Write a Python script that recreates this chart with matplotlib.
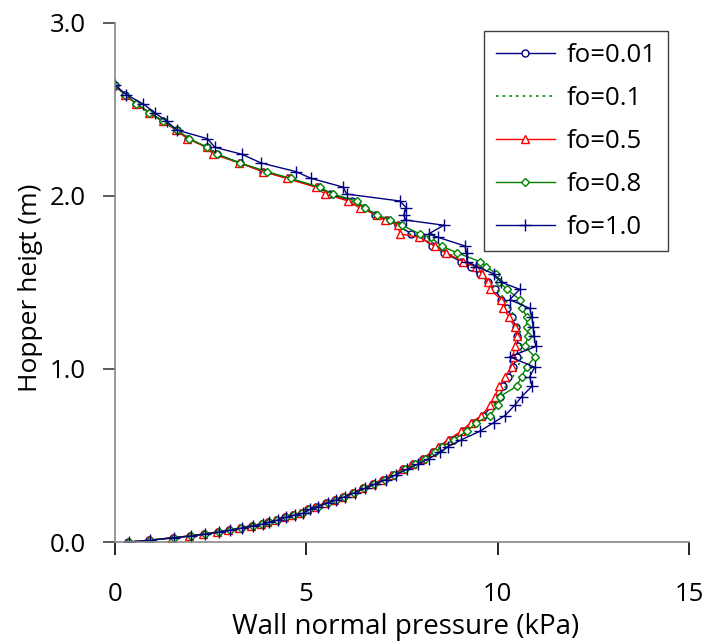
import matplotlib
matplotlib.use('Agg')
import matplotlib.pyplot as plt

# hopper height of the wall nodes (m), top to bottom
height = [2.64, 2.585, 2.53, 2.48, 2.43, 2.38, 2.33, 2.28, 2.24, 2.19,
          2.14, 2.10, 2.05, 2.01, 1.97, 1.93, 1.89, 1.86, 1.83, 1.78,
          1.76, 1.71, 1.67, 1.62, 1.59, 1.55, 1.50, 1.46, 1.40, 1.35,
          1.30, 1.24, 1.19, 1.13, 1.07, 1.01, 0.955, 0.90, 0.84, 0.79,
          0.73, 0.69, 0.64, 0.59, 0.55, 0.52, 0.48, 0.45, 0.42, 0.39,
          0.36, 0.335, 0.31, 0.285, 0.262, 0.243, 0.227, 0.204, 0.189, 0.166,
          0.156, 0.143, 0.127, 0.116, 0.104, 0.094, 0.081, 0.068, 0.058, 0.046,
          0.035, 0.025, 0.01, 0.0]

# wall normal pressure (kPa) for each fo
p_001 = [0.0, 0.27, 0.57, 0.92, 1.27, 1.63, 1.92, 2.42, 2.68, 3.27,
         3.88, 4.55, 5.3, 5.62, 6.2, 6.5, 6.8, 7.1, 7.4, 7.75,
         8.0, 8.3, 8.6, 9.05, 9.3, 9.55, 9.75, 9.93, 10.1, 10.25,
         10.37, 10.48, 10.51, 10.54, 10.5, 10.41, 10.28, 10.15, 10.06, 9.88,
         9.62, 9.36, 9.10, 8.75, 8.49, 8.32, 8.06, 7.80, 7.54, 7.27,
         7.01, 6.75, 6.49, 6.23, 5.97, 5.75, 5.53, 5.27, 5.06, 4.88,
         4.66, 4.45, 4.23, 4.01, 3.84, 3.58, 3.29, 2.99, 2.70, 2.34,
         1.97, 1.53, 0.9, 0.36]
p_01 = [0.0, 0.27, 0.57, 0.91, 1.26, 1.62, 1.92, 2.41, 2.64, 3.26,
        3.90, 4.55, 5.28, 5.60, 6.18, 6.48, 6.82, 7.10, 7.42, 7.70,
        8.05, 8.35, 8.70, 9.10, 9.35, 9.62, 9.80, 9.98, 10.20, 10.32,
        10.45, 10.55, 10.62, 10.60, 10.65, 10.52, 10.40, 10.22, 10.02, 9.90,
        9.66, 9.38, 9.12, 8.78, 8.51, 8.34, 8.08, 7.82, 7.56, 7.29,
        7.03, 6.77, 6.51, 6.25, 5.99, 5.77, 5.55, 5.29, 5.08, 4.90,
        4.68, 4.46, 4.24, 4.02, 3.85, 3.59, 3.30, 3.00, 2.71, 2.35,
        1.98, 1.54, 0.91, 0.37]
p_05 = [0.0, 0.27, 0.57, 0.90, 1.25, 1.60, 1.90, 2.40, 2.58, 3.25,
        3.88, 4.50, 5.25, 5.49, 6.10, 6.40, 6.84, 7.05, 7.40, 7.45,
        7.95, 8.36, 8.65, 9.10, 9.43, 9.60, 9.75, 9.80, 10.10, 10.15,
        10.30, 10.45, 10.50, 10.45, 10.40, 10.37, 10.19, 10.05, 9.93, 9.80,
        9.58, 9.30, 9.05, 8.70, 8.45, 8.28, 8.02, 7.76, 7.50, 7.23,
        6.97, 6.72, 6.46, 6.20, 5.94, 5.72, 5.50, 5.24, 5.03, 4.85,
        4.63, 4.42, 4.20, 3.98, 3.81, 3.55, 3.26, 2.96, 2.67, 2.31,
        1.94, 1.50, 0.88, 0.34]
p_08 = [0.0, 0.27, 0.57, 0.90, 1.25, 1.63, 1.95, 2.42, 2.66, 3.27,
        3.98, 4.60, 5.35, 5.70, 6.32, 6.55, 6.85, 7.20, 7.50, 7.97,
        8.25, 8.54, 8.95, 9.54, 9.70, 9.97, 10.05, 10.25, 10.58, 10.65,
        10.76, 10.76, 10.80, 10.71, 10.97, 10.76, 10.63, 10.50, 10.06, 10.00,
        9.80, 9.45, 9.20, 8.85, 8.55, 8.36, 8.10, 7.85, 7.58, 7.30,
        7.05, 6.78, 6.52, 6.26, 6.00, 5.78, 5.56, 5.30, 5.08, 4.90,
        4.68, 4.47, 4.25, 4.03, 3.86, 3.60, 3.31, 3.01, 2.72, 2.36,
        1.99, 1.55, 0.92, 0.38]
p_10 = [0.0, 0.30, 0.75, 1.05, 1.36, 1.63, 2.42, 2.62, 3.32, 3.82,
        4.73, 5.14, 5.97, 6.06, 7.45, 7.62, 7.55, 7.60, 8.60, 8.20,
        8.45, 9.15, 9.19, 9.20, 9.45, 9.90, 10.10, 10.58, 10.32, 10.84,
        10.90, 10.93, 10.95, 11.00, 10.32, 10.97, 10.84, 10.90, 10.63, 10.45,
        10.19, 9.90, 9.54, 9.05, 8.70, 8.50, 8.20, 7.92, 7.64, 7.36,
        7.08, 6.80, 6.54, 6.27, 6.01, 5.79, 5.57, 5.30, 5.10, 4.92,
        4.70, 4.48, 4.26, 4.04, 3.87, 3.61, 3.32, 3.02, 2.72, 2.36,
        1.99, 1.55, 0.92, 0.38]

x_ticks = [0, 5, 10, 15]
y_ticks = [0.0, 1.0, 2.0, 3.0]

plt.rcParams['font.family'] = ['Open Sans', 'DejaVu Sans']

fig = plt.figure(figsize=(7.07, 6.41), dpi=100)
ax = fig.add_axes([0.1622, 0.1544, 0.8123, 0.8102])

navy = '#000080'
ax.plot(p_001, height, color=navy, lw=1.0, marker='o', ms=5,
        mfc='white', mec=navy, mew=1.0, label='fo=0.01')
ax.plot(p_01, height, color='#008000', lw=1.2, ls=(0, (1.5, 2.5)),
        label='fo=0.1')
ax.plot(p_05, height, color='#ff0000', lw=1.0, marker='^', ms=5.5,
        mfc='white', mec='#ff0000', mew=1.0, label='fo=0.5')
ax.plot(p_08, height, color='#008000', lw=1.0, marker='D', ms=4,
        mfc='white', mec='#008000', mew=1.0, label='fo=0.8')
ax.plot(p_10, height, color=navy, lw=1.0, marker='+', ms=8,
        mew=1.0, label='fo=1.0')

ax.set_xlim(0, 15)
ax.set_ylim(0, 3.0)
ax.set_xticks(x_ticks)
ax.set_yticks(y_ticks)
ax.set_yticklabels([f'{v:.1f}' for v in y_ticks])

for side in ['top', 'right']:
    ax.spines[side].set_visible(False)
for side in ['left', 'bottom']:
    ax.spines[side].set_color('#868686')
    ax.spines[side].set_linewidth(1.2)

ax.tick_params(axis='x', direction='out', length=9, width=1.2,
               color='#000000', pad=19.5, labelsize=18.5)
ax.tick_params(axis='y', direction='out', length=9, width=1.2,
               color='#404040', pad=12, labelsize=18.5)

ax.set_xlabel('Wall normal pressure (kPa)', fontsize=20)
ax.set_ylabel('Hopper heigt (m)', fontsize=19)
ax.xaxis.set_label_coords(0.506, -0.136)
ax.yaxis.set_label_coords(-0.125, 0.49)

leg = ax.legend(loc='upper right', bbox_to_anchor=(0.9634, 0.984),
                fontsize=18.5, frameon=True, fancybox=False, framealpha=1,
                edgecolor='#404040', labelspacing=0.7, handlelength=2.3,
                handletextpad=0.45, borderpad=0.45, borderaxespad=0)
leg.get_frame().set_linewidth(1.0)

fig.savefig('out.png', dpi=100)
